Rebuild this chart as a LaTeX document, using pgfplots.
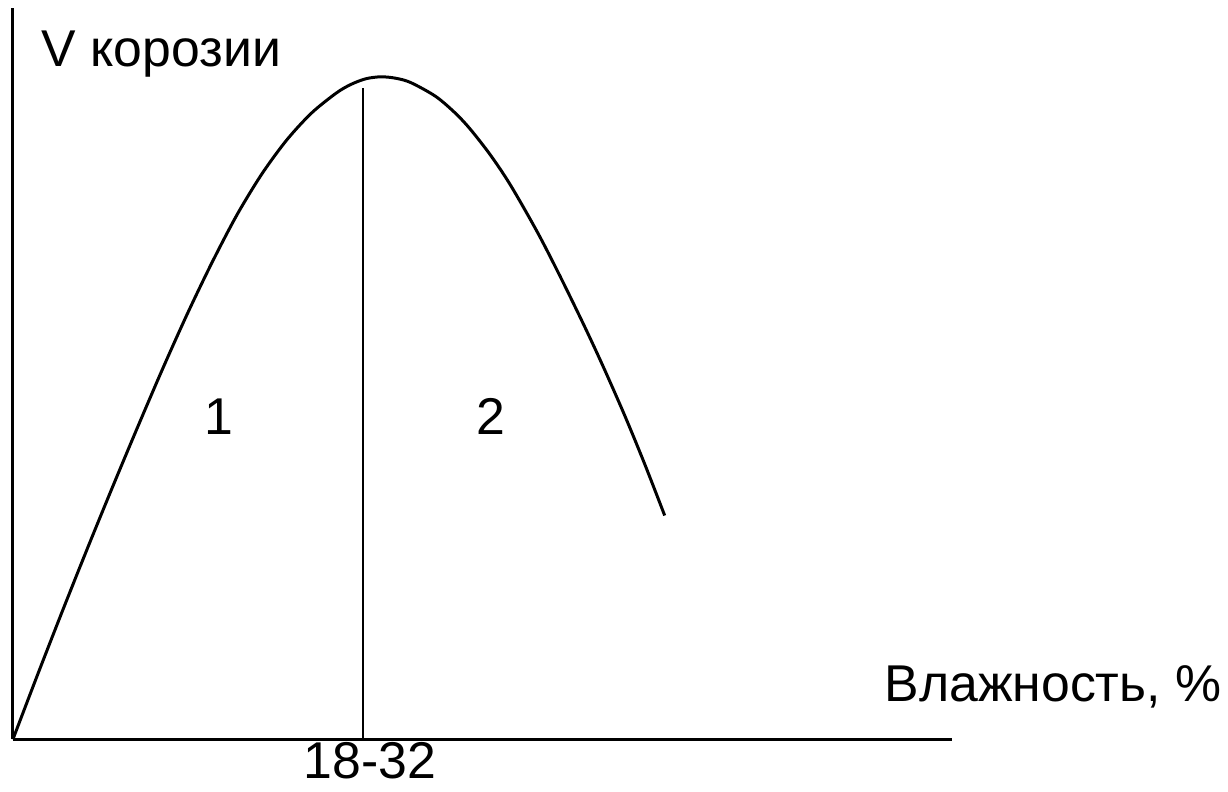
\documentclass[border=0pt]{standalone}
\usepackage{pgfplots}
\pgfplotsset{compat=1.18}
\usepackage{fontspec}
\setmainfont{Liberation Sans}

\begin{document}
\begin{tikzpicture}
\begin{axis}[
    x=0.5pt, y=0.5pt,
    xmin=0, xmax=944,
    ymin=0, ymax=735,
    axis x line=bottom,
    axis y line=left,
    axis line style={-, line width=1.5pt},
    xtick=\empty, ytick=\empty,
    clip=false,
    font=\fontsize{26}{30}\selectfont,
    every node/.append style={inner sep=0pt, outer sep=0pt},
]
% corrosion rate curve
\addplot[black, line width=1.5pt, smooth, tension=0.5] coordinates {
    (0,0) (25,65.5) (50,129.6) (75,192.2) (100,253.3) (125,313.0)
    (150,371.3) (175,427.0) (200,479.0) (225,526.8) (250,567.9)
    (275,602.1) (300,629.3) (325,649.5) (340,658.3) (355,663.9)
    (370,665.8) (385,664.3) (400,659.9) (425,646.0) (445,628.9)
    (460,612.7) (480,587.0) (500,557.0) (527,509.8) (550,465.1)
    (575,413.8) (594,372.8) (615,325.0) (635,276.4) (655,224.9)
};
% boundary between zones
\addplot[black, line width=1pt] coordinates {(352,0) (352,655)};

\node[anchor=base west] at (axis cs:22,676) {V корозии};
\node[anchor=base west] at (axis cs:869,38) {Влажность, \%};
\node[anchor=base] at (axis cs:207,306) {1};
\node[anchor=base] at (axis cs:480,306) {2};
\node[anchor=base] at (axis cs:359,-39) {18-32};

\path (axis cs:-13,-52) rectangle (axis cs:1215,743);
\end{axis}
\end{tikzpicture}
\end{document}
